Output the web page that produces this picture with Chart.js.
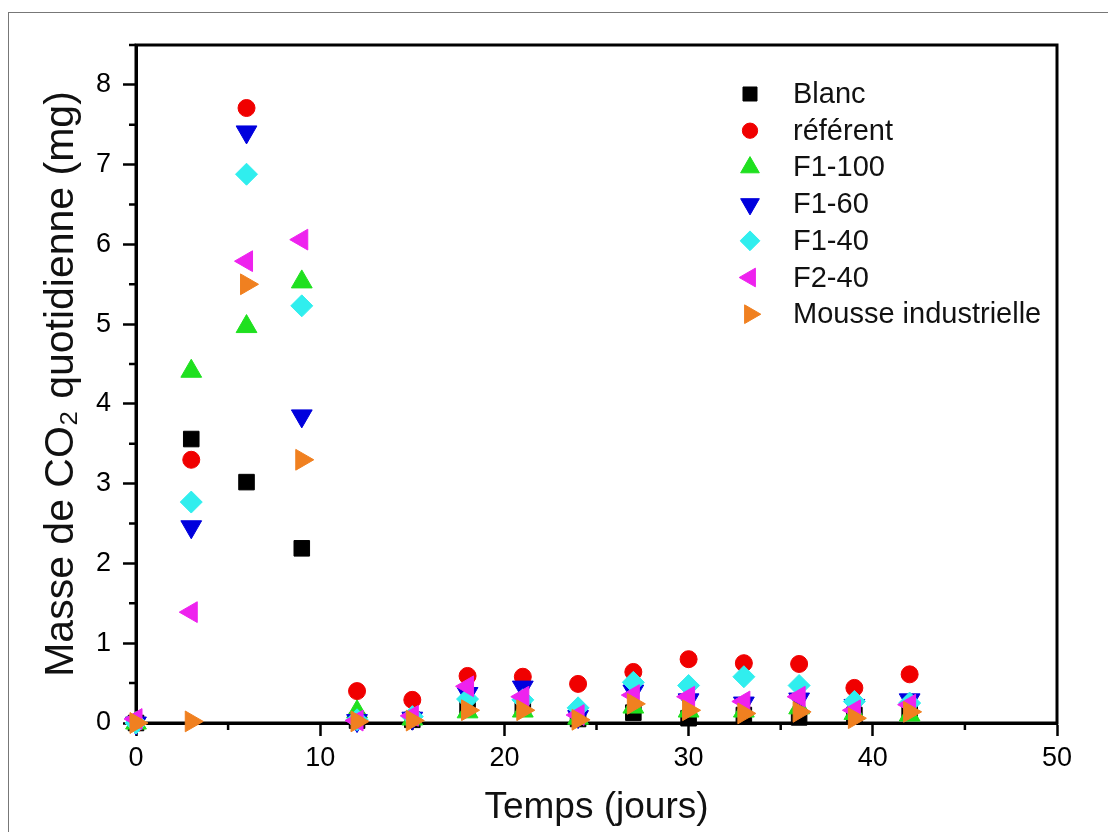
<!DOCTYPE html>
<html>
<head>
<meta charset="utf-8">
<title>Masse de CO2 quotidienne</title>
<script src="https://cdn.jsdelivr.net/npm/chart.js@4.4.0/dist/chart.umd.min.js"></script>
<style>
    body { margin: 0; background: #fff; overflow: hidden; }
    #frame { position: absolute; left: 8px; top: 12px; width: 1200px; height: 900px; border: 1px solid #777; }
    #wrap { position: absolute; left: 0; top: 0; width: 1108px; height: 832px; }
</style>
</head>
<body>
<div id="frame"></div>
<div id="wrap"><canvas id="chart" width="1108" height="832"></canvas></div>
<script>
// jours de mesure
const days = [0, 3, 6, 9, 12, 15, 18, 21, 24, 27, 30, 33, 36, 39, 42]

// masse de CO2 quotidienne (mg) par échantillon
const blanc = [0, 3.56, 3.02, 2.19, 0.03, 0.04, 0.20, 0.20, 0.05, 0.13, 0.06, 0.10, 0.07, 0.10, 0.15]
const referent = [0, 3.30, 7.71, null, 0.40, 0.29, 0.59, 0.58, 0.49, 0.64, 0.80, 0.75, 0.74, 0.44, 0.61]
const f1_100 = [0, 4.41, 4.97, 5.53, 0.14, 0.05, 0.14, 0.15, 0.06, 0.20, 0.15, 0.15, 0.19, 0.12, 0.10]
const f1_60 = [0, 2.46, 7.41, 3.85, 0.03, 0.06, 0.37, 0.45, 0.08, 0.40, 0.29, 0.25, 0.30, 0.22, 0.29]
const f1_40 = [0, 2.77, 6.88, 5.23, 0.04, 0.08, 0.30, 0.29, 0.19, 0.51, 0.47, 0.58, 0.47, 0.27, 0.25]
const f2_40 = [0.05, 1.39, 5.79, 6.06, 0.03, 0.09, 0.46, 0.33, 0.10, 0.35, 0.33, 0.27, 0.33, 0.16, 0.23]
const mousse = [0, 0.02, 5.50, 3.30, 0.02, 0.03, 0.16, 0.16, 0.04, 0.24, 0.16, 0.12, 0.14, 0.06, 0.14]

const labels = ['Blanc', 'référent', 'F1-100', 'F1-60', 'F1-40', 'F2-40', 'Mousse industrielle']

// ticks secondaires
const minorX = [5, 15, 25, 35, 45]
const minorY = [0.5, 1.5, 2.5, 3.5, 4.5, 5.5, 6.5, 7.5, 8.5]

const FONT = "'Liberation Sans', Arial, sans-serif"

function toPoints(values) {
    return days.map((d, i) => {
        return { x: d, y: values[i] }
    })
}

let series = [
    { label: labels[0], values: blanc, color: '#000000', style: 'rect', radius: 11, rotation: 0 },
    { label: labels[1], values: referent, color: '#f00000', style: 'circle', radius: 8.5, rotation: 0 },
    { label: labels[2], values: f1_100, color: '#1fe01f', style: 'triangle', radius: 12, rotation: 0 },
    { label: labels[3], values: f1_60, color: '#0000dd', style: 'triangle', radius: 12, rotation: 180 },
    { label: labels[4], values: f1_40, color: '#30eeee', style: 'rectRot', radius: 11, rotation: 0 },
    { label: labels[5], values: f2_40, color: '#ee22ee', style: 'triangle', radius: 12, rotation: 270 },
    { label: labels[6], values: mousse, color: '#f08020', style: 'triangle', radius: 12, rotation: 90 }
]

let datasets = series.map((s, i) => {
    return {
        label: s.label,
        data: toPoints(s.values),
        pointStyle: s.style,
        pointRadius: s.radius,
        pointRotation: s.rotation,
        backgroundColor: s.color,
        borderColor: s.color,
        borderWidth: 1,
        showLine: false,
        clip: false,
        order: series.length - i   // le dernier est dessiné au dessus
    }
})

// cadre + petites graduations
const framePlugin = {
    id: 'frame',
    beforeDatasetsDraw(chart) {
        const { ctx, chartArea: a, scales } = chart
        ctx.save()
        ctx.strokeStyle = '#000'
        ctx.lineWidth = 3
        ctx.strokeRect(a.left, a.top, a.right - a.left, a.bottom - a.top)
        ctx.lineWidth = 2.5
        ctx.beginPath()
        minorX.forEach((v) => {
            let px = scales.x.getPixelForValue(v)
            ctx.moveTo(px, a.bottom)
            ctx.lineTo(px, a.bottom + 7)
        })
        minorY.forEach((v) => {
            let py = scales.y.getPixelForValue(v)
            ctx.moveTo(a.left, py)
            ctx.lineTo(a.left - 7, py)
        })
        ctx.stroke()
        ctx.restore()
    }
}

// légende dans le graphique
const legendPlugin = {
    id: 'insideLegend',
    afterDraw(chart) {
        const ctx = chart.ctx
        ctx.save()
        ctx.font = '29px ' + FONT
        ctx.textBaseline = 'middle'
        series.forEach((s, i) => {
            let y = 94 + i * 36.7
            ctx.fillStyle = s.color
            ctx.strokeStyle = s.color
            ctx.lineWidth = 1
            Chart.helpers.drawPoint(ctx, {
                pointStyle: s.style,
                radius: s.radius * 0.9,
                rotation: s.rotation,
                borderWidth: 1
            }, 750, y)
            ctx.fillStyle = '#111'
            ctx.fillText(s.label, 793, y + 1)
        })
        ctx.restore()
    }
}

let chart = new Chart(document.getElementById('chart').getContext('2d'), {
    type: 'scatter',
    data: { datasets: datasets },
    options: {
        responsive: false,
        animation: false,
        events: [],
        layout: { padding: { left: 0, top: 45, right: 51, bottom: 0 } },
        plugins: {
            legend: { display: false },
            tooltip: { enabled: false }
        },
        scales: {
            x: {
                type: 'linear',
                min: 0,
                max: 50,
                ticks: { stepSize: 10, color: '#000', padding: 6, font: { family: FONT, size: 27 } },
                grid: { drawOnChartArea: false, tickLength: 13, tickWidth: 2.5, tickColor: '#000' },
                border: { color: '#000', width: 3 },
                title: {
                    display: true,
                    text: 'Temps (jours)',
                    color: '#111',
                    font: { family: FONT, size: 37 },
                    padding: { top: 0, bottom: 2 }
                },
                afterFit: (scale) => { scale.height = 109 }
            },
            y: {
                min: 0,
                max: 8.5,
                ticks: { stepSize: 1, color: '#000', padding: 12, font: { family: FONT, size: 27 } },
                afterBuildTicks: (scale) => {
                    scale.ticks = scale.ticks.filter((t) => Number.isInteger(t.value))
                },
                grid: { drawOnChartArea: false, tickLength: 13, tickWidth: 2.5, tickColor: '#000' },
                border: { color: '#000', width: 3 },
                title: {
                    display: true,
                    text: 'Masse de CO₂ quotidienne (mg)',
                    color: '#111',
                    font: { family: FONT, size: 41 },
                    padding: { top: 37, bottom: 0 }
                },
                afterFit: (scale) => { scale.width = 136 }
            }
        }
    },
    plugins: [framePlugin, legendPlugin]
})
</script>
</body>
</html>
